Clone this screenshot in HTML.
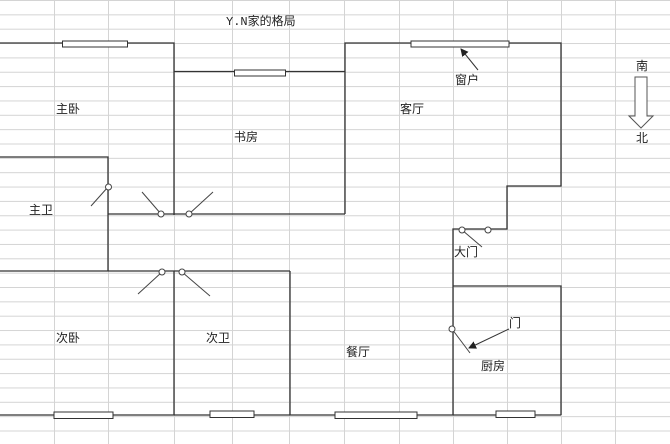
<!DOCTYPE html>
<html><head><meta charset="utf-8"><style>
html,body{margin:0;padding:0;background:#fff;}
svg{display:block;}
text{font-family:"Liberation Sans","Noto Sans CJK SC",sans-serif;font-size:12px;fill:#222;}
</style></head><body>
<svg width="670" height="444" viewBox="0 0 670 444" xmlns="http://www.w3.org/2000/svg">
<defs>
<pattern id="rows" width="670" height="14.35" patternUnits="userSpaceOnUse">
<line x1="0" y1="0.5" x2="670" y2="0.5" stroke="#d4d4d4" stroke-width="1"/>
</pattern>
<marker id="ah" markerWidth="8" markerHeight="8" refX="7" refY="4" orient="auto"><path d="M0,0 L8,4 L0,8 z" fill="#222"/></marker>
</defs>
<rect width="670" height="444" fill="url(#rows)"/>
<g stroke="#d4d4d4" stroke-width="1">
<line x1="54.5" y1="0" x2="54.5" y2="444"/><line x1="108.5" y1="0" x2="108.5" y2="444"/>
<line x1="174.5" y1="0" x2="174.5" y2="444"/><line x1="232.5" y1="0" x2="232.5" y2="444"/>
<line x1="289.5" y1="0" x2="289.5" y2="444"/><line x1="344.5" y1="0" x2="344.5" y2="444"/>
<line x1="399.5" y1="0" x2="399.5" y2="444"/><line x1="453.5" y1="0" x2="453.5" y2="444"/>
<line x1="507.5" y1="0" x2="507.5" y2="444"/><line x1="561.5" y1="0" x2="561.5" y2="444"/>
<line x1="615.5" y1="0" x2="615.5" y2="444"/>
</g>
<g stroke="#333" stroke-width="1.3" fill="none">
<polyline points="0,43 174,43 174,215"/>
<polyline points="174,71.5 345,71.5"/>
<polyline points="0,157 108,157 108,271"/>
<line x1="108" y1="214" x2="345" y2="214"/>
<polyline points="345,214 345,43 561,43 561,186 507,186 507,229 453,229 453,415"/>
<polyline points="453,286 561,286 561,415"/>
<line x1="0" y1="271" x2="290" y2="271"/>
<line x1="174" y1="271" x2="174" y2="415"/>
<line x1="290" y1="271" x2="290" y2="415"/>
<line x1="0" y1="415" x2="561" y2="415"/>
</g>
<g stroke="#333" stroke-width="1" fill="#fff">
<rect x="62.5" y="41" width="65" height="6"/>
<rect x="234.5" y="70" width="51" height="6"/>
<rect x="411" y="41" width="98" height="6"/>
<rect x="54" y="412" width="59" height="6.5"/>
<rect x="210" y="411" width="44" height="6.5"/>
<rect x="335" y="412" width="82" height="6.5"/>
<rect x="496" y="411" width="39" height="6.5"/>
</g>
<g stroke="#444" stroke-width="1" fill="none">
<line x1="108" y1="187" x2="91" y2="206"/>
<line x1="161" y1="214" x2="142" y2="192"/>
<line x1="189" y1="214" x2="213" y2="192"/>
<line x1="162" y1="272" x2="138" y2="294"/>
<line x1="182" y1="272" x2="210" y2="296"/>
<line x1="462" y1="230" x2="482" y2="247"/>
<line x1="452" y1="329" x2="470" y2="353"/>
</g>
<g stroke="#444" stroke-width="1" fill="#fff">
<circle cx="108.5" cy="187" r="3"/>
<circle cx="161" cy="214" r="3"/>
<circle cx="189" cy="214" r="3"/>
<circle cx="162" cy="272" r="3"/>
<circle cx="182" cy="272" r="3"/>
<circle cx="462" cy="230" r="3"/>
<circle cx="488" cy="230" r="3"/>
<circle cx="452" cy="329" r="3"/>
</g>
<line x1="478" y1="70" x2="461" y2="49" stroke="#333" stroke-width="1" marker-end="url(#ah)"/>
<line x1="509" y1="329" x2="469" y2="348" stroke="#333" stroke-width="1" marker-end="url(#ah)"/>
<polygon points="635,77 647,77 647,116 653,116 641,128 629,116 635,116" fill="#fff" stroke="#555" stroke-width="1"/>
<text x="226" y="25"><tspan style="font-family:'Liberation Mono',monospace">Y.N</tspan>家的格局</text>
<text x="56" y="113">主卧</text>
<text x="234" y="141">书房</text>
<text x="400" y="113">客厅</text>
<text x="455" y="84">窗户</text>
<text x="29" y="214">主卫</text>
<text x="56" y="342">次卧</text>
<text x="206" y="342">次卫</text>
<text x="346" y="356">餐厅</text>
<text x="481" y="370">厨房</text>
<text x="454" y="256">大门</text>
<text x="509" y="327">门</text>
<text x="636" y="70">南</text>
<text x="636" y="142">北</text>
</svg>
</body></html>
